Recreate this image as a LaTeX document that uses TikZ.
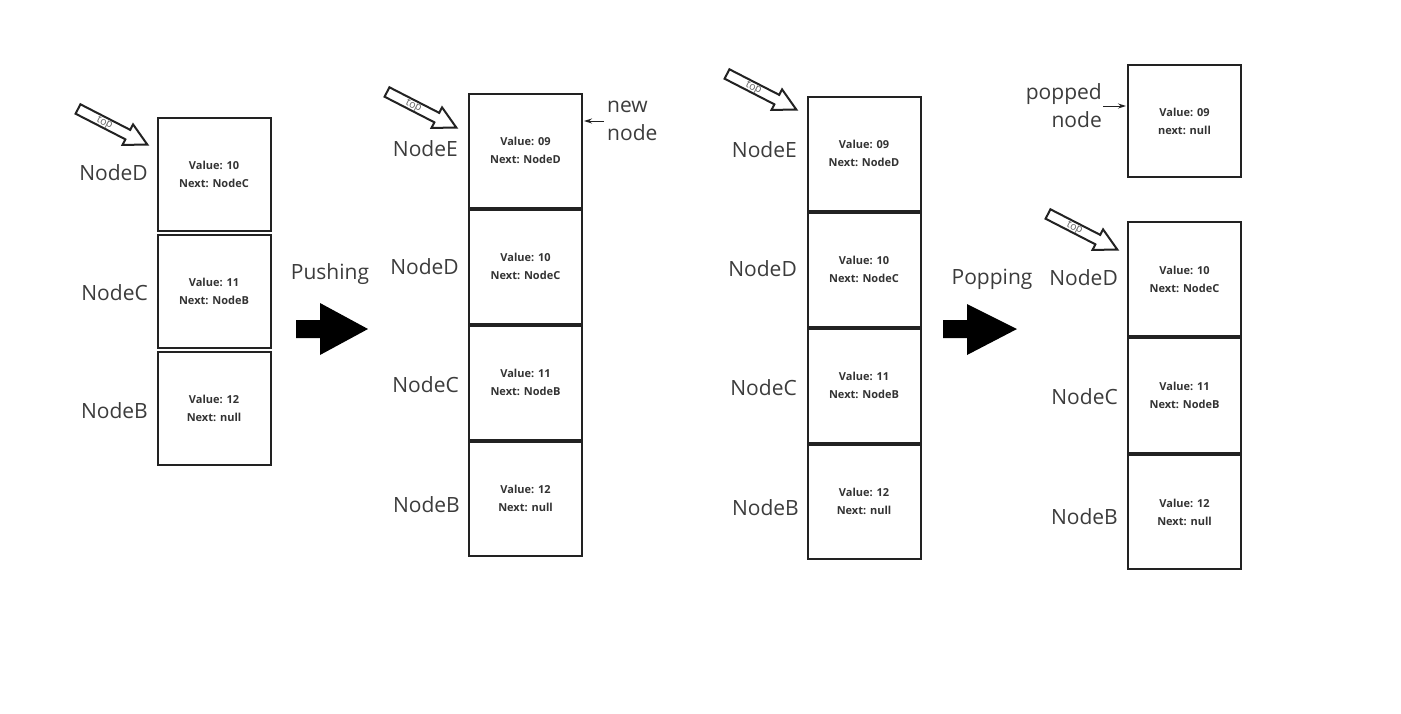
\documentclass[tikz,border=0pt]{standalone}
\usepackage{fontspec}
\setmainfont{Open Sans}
\usetikzlibrary{arrows.meta}
\definecolor{boxc}{HTML}{222222}
\definecolor{txtc}{HTML}{333333}
\definecolor{lblc}{HTML}{3C3C3C}
\tikzset{
  cell/.style={draw=boxc, line width=2pt, minimum width=113pt, minimum height=113pt,
    inner sep=0pt, align=center, text=txtc, font=\bfseries\fontsize{11}{18}\selectfont},
  lbl/.style={anchor=east, inner sep=0pt, text=lblc, font=\fontsize{21}{28}\selectfont},
  note/.style={inner sep=0pt, text=lblc, font=\fontsize{21}{28}\selectfont},
  toptext/.style={inner sep=0pt, text=lblc!80, font=\fontsize{10.5}{12}\selectfont},
  ptr/.style={line width=1pt, draw=boxc, -{Stealth[length=8pt,width=5pt]}},
  bigarrow/.style={fill=black, draw=none},
  hollow/.style={line width=2pt, draw=boxc, fill=white, line join=miter},
}
\newcommand\topptr[3]{%
  \begin{scope}[shift={(#2-70,#3-36)}, rotate=-27.2]
    \draw[hollow] (0,-5.3) -- (56,-5.3) -- (56,-11.5) -- (78,0) -- (56,11.5) -- (56,5.3) -- (0,5.3) -- cycle;
    \node[toptext, rotate=-27.2] (#1) at (30,0.5) {top};
  \end{scope}}
\begin{document}
\begin{tikzpicture}[x=1pt,y=-1pt]
\useasboundingbox[fill=white] (0,0) rectangle (1401,713);

% ---- stack 1
\node[cell] (a1) at (214,174) {Value: 10\\Next: NodeC};
\node[cell] (a2) at (214,291) {Value: 11\\Next: NodeB};
\node[cell] (a3) at (214,408) {Value: 12\\Next: null};
\node[lbl] (la1) at (148,173) {NodeD};
\node[lbl] (la2) at (148,293) {NodeC};
\node[lbl] (la3) at (148,411) {NodeB};
\topptr{ta}{148}{145}

% ---- pushing
\node[note] (push) at (330,274) {Pushing};
\fill[bigarrow] (296,320) -- (320,320) -- (320,303) -- (368,329) -- (320,355) -- (320,338) -- (296,338) -- cycle;

% ---- stack 2
\node[cell, minimum height=114pt] (b1) at (525.5,150.5) {Value: 09\\Next: NodeD};
\node[cell, minimum height=114pt] (b2) at (525.5,266.5) {Value: 10\\Next: NodeC};
\node[cell, minimum height=114pt] (b3) at (525.5,382.5) {Value: 11\\Next: NodeB};
\node[cell, minimum height=114pt] (b4) at (525.5,498.5) {Value: 12\\Next: null};
\node[lbl] (lb1) at (458,149) {NodeE};
\node[lbl] (lb2) at (459,267) {NodeD};
\node[lbl] (lb3) at (459,385) {NodeC};
\node[lbl] (lb4) at (460,505) {NodeB};
\topptr{tb}{457}{128}
\node[note, anchor=west, align=left] (newn) at (607,121) {new\\node};
\coordinate (nn) at (604,121);
\draw[ptr, shorten >=1pt] (nn) -- (nn -| b1.east);

% ---- stack 3
\node[cell, minimum height=114pt] (c1) at (864,153.5) {Value: 09\\Next: NodeD};
\node[cell, minimum height=114pt] (c2) at (864,269.5) {Value: 10\\Next: NodeC};
\node[cell, minimum height=114pt] (c3) at (864,385.5) {Value: 11\\Next: NodeB};
\node[cell, minimum height=114pt] (c4) at (864,501.5) {Value: 12\\Next: null};
\node[lbl] (lc1) at (797,150) {NodeE};
\node[lbl] (lc2) at (797,269) {NodeD};
\node[lbl] (lc3) at (797,388) {NodeC};
\node[lbl] (lc4) at (799,508) {NodeB};
\topptr{tc}{797}{110}

% ---- popping
\node[note] (pop) at (992,279) {Popping};
\fill[bigarrow] (943,320) -- (967,320) -- (967,304) -- (1017,329) -- (967,355) -- (967,338) -- (943,338) -- cycle;

% ---- stack 4
\node[cell, minimum height=112pt] (p1) at (1184.5,121) {Value: 09\\next: null};
\node[note, anchor=east, align=right] (popn) at (1102,106) {popped\\node};
\coordinate (pn) at (1103,106);
\draw[ptr, shorten >=1pt] (pn) -- (pn -| p1.west);
\node[cell, minimum height=114.3pt] (d1) at (1184.5,279) {Value: 10\\Next: NodeC};
\node[cell, minimum height=114.3pt] (d2) at (1184.5,395.5) {Value: 11\\Next: NodeB};
\node[cell, minimum height=114.3pt] (d3) at (1184.5,512) {Value: 12\\Next: null};
\node[lbl] (ld1) at (1118,278) {NodeD};
\node[lbl] (ld2) at (1118,397) {NodeC};
\node[lbl] (ld3) at (1118,517) {NodeB};
\topptr{td}{1118}{250}
\end{tikzpicture}
\end{document}
